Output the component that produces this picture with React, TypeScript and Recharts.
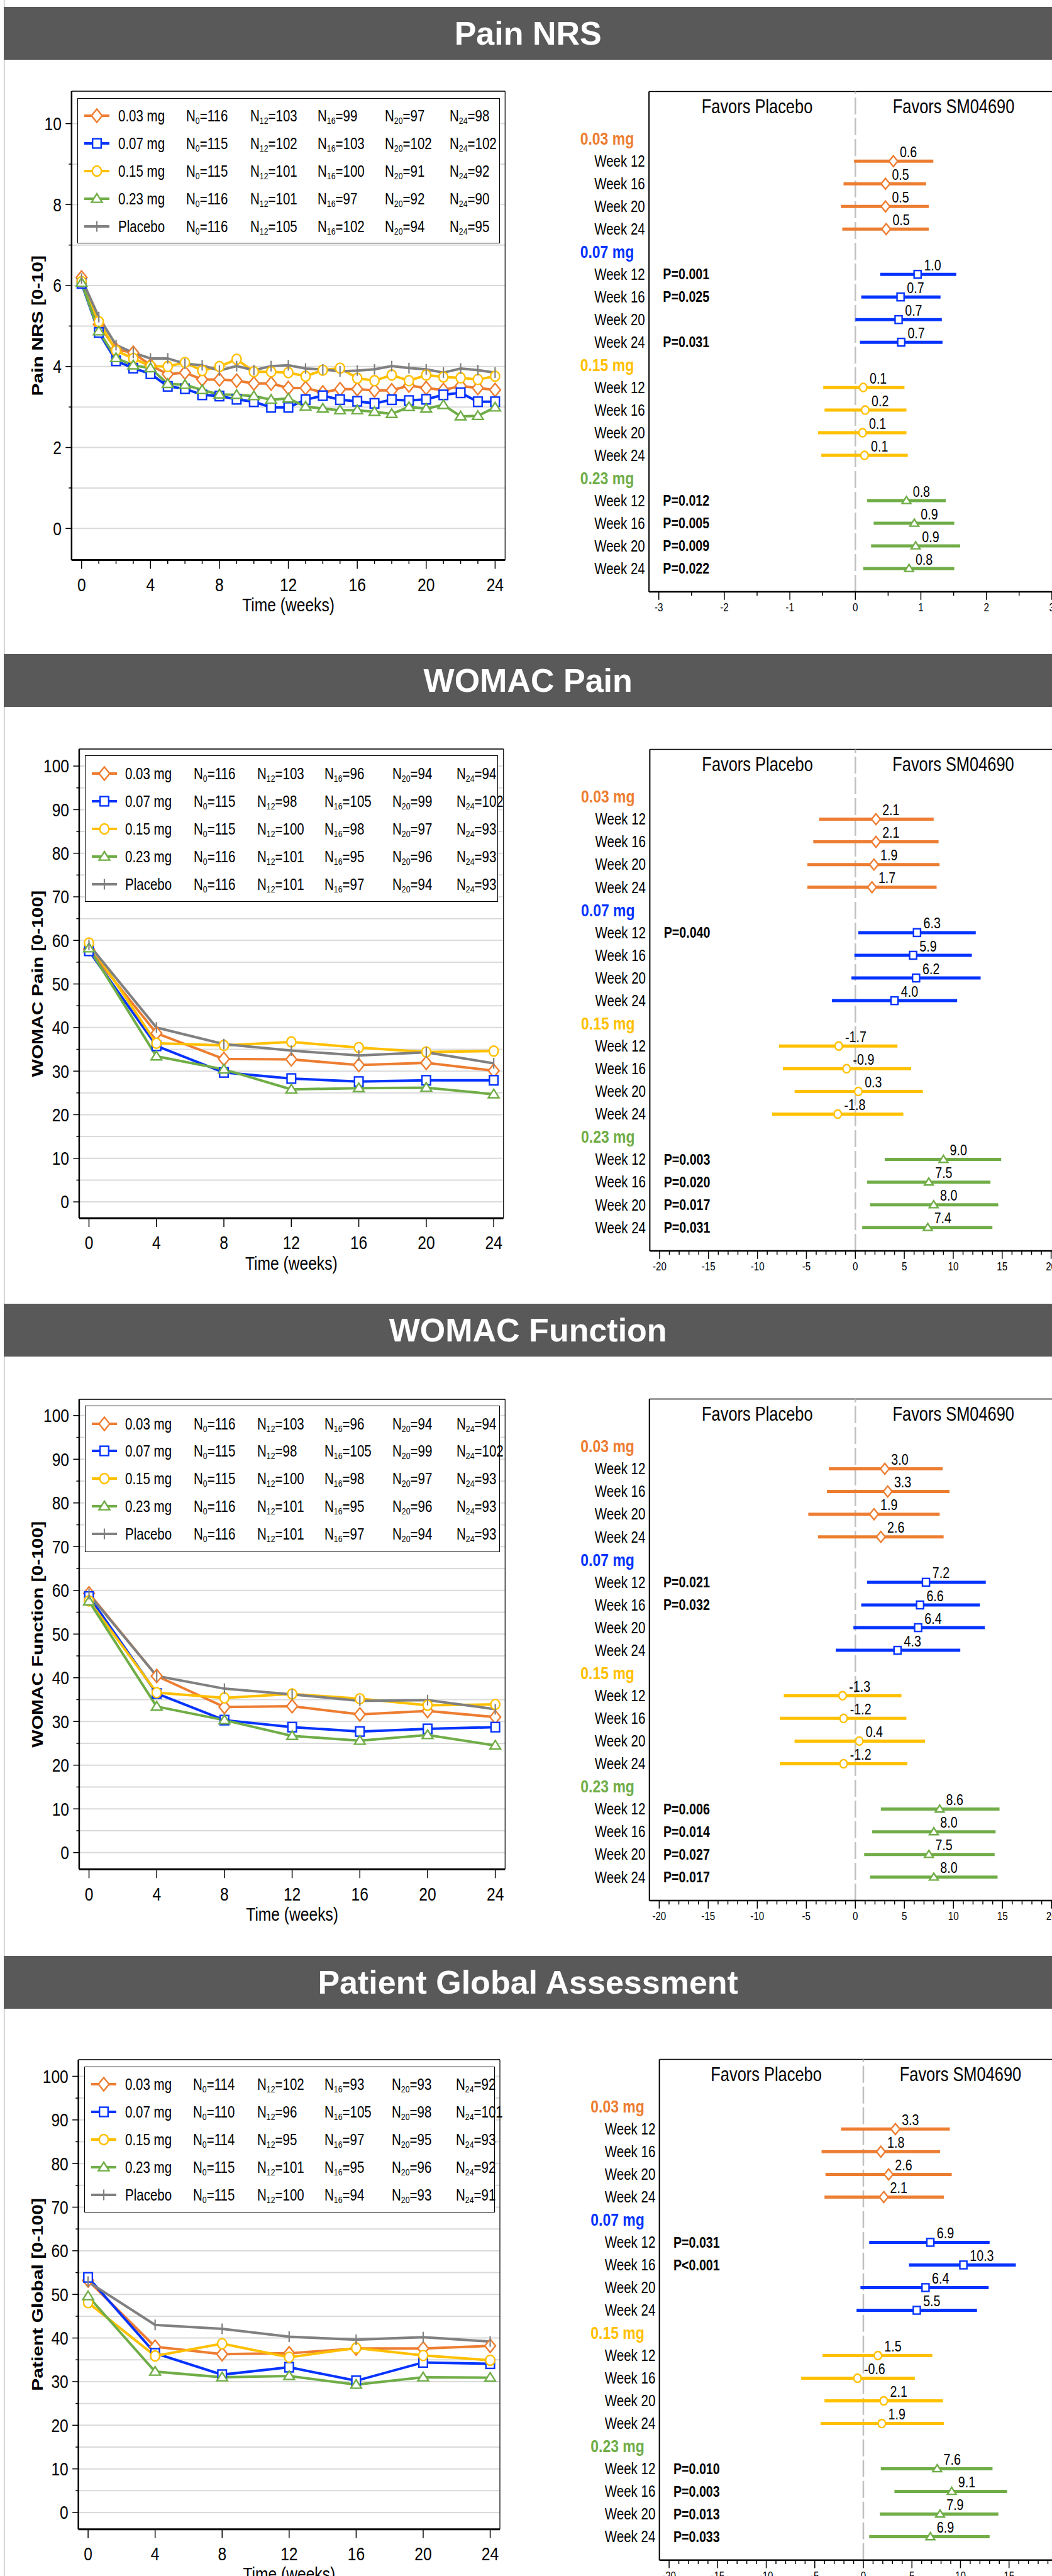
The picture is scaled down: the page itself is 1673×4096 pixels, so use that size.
import React from "react";
import {
  LineChart,
  Line,
  XAxis,
  YAxis,
  CartesianGrid,
  ReferenceLine,
  ScatterChart,
  Scatter,
} from "recharts";

const S = 0.636; // reference px -> page px
const k = (v: number) => v * S;
const SQ = 0.82; // source figure is squeezed horizontally
const FONT = "'Liberation Sans', Arial, Helvetica, sans-serif";

const ORANGE = "#ED7D31";
const BLUE = "#0433FF";
const YELLOW = "#FFC000";
const GREEN = "#70AD47";
const GRAY = "#808080";

// ---------- time course data ----------
const nrsWeeks = [0, 1, 2, 3, 4, 5, 6, 7, 8, 9, 10, 11, 12, 13, 14, 15, 16, 17, 18, 19, 20, 21, 22, 23, 24];
const visitWeeks = [0, 4, 8, 12, 16, 20, 24];

const nrs003 = [6.2, 5.04, 4.42, 4.34, 4.03, 3.81, 3.85, 3.68, 3.68, 3.65, 3.58, 3.58, 3.47, 3.47, 3.36, 3.44, 3.44, 3.41, 3.41, 3.53, 3.47, 3.42, 3.52, 3.47, 3.42];
const nrs007 = [6.05, 4.84, 4.14, 3.96, 3.82, 3.51, 3.45, 3.3, 3.27, 3.19, 3.13, 2.99, 2.99, 3.18, 3.28, 3.18, 3.14, 3.09, 3.18, 3.16, 3.19, 3.3, 3.35, 3.13, 3.13];
const nrs015 = [6.1, 5.11, 4.39, 4.2, 4.01, 4.0, 4.1, 3.9, 4.0, 4.18, 3.87, 3.87, 3.85, 3.76, 3.91, 3.96, 3.71, 3.65, 3.79, 3.65, 3.79, 3.74, 3.72, 3.68, 3.76];
const nrs023 = [6.07, 4.87, 4.21, 4.03, 3.96, 3.57, 3.55, 3.42, 3.31, 3.3, 3.27, 3.18, 3.21, 3.01, 2.96, 2.92, 2.92, 2.88, 2.83, 3.0, 2.96, 3.05, 2.77, 2.78, 2.99];
const nrsPbo = [6.17, 5.22, 4.53, 4.34, 4.2, 4.2, 4.07, 4.03, 3.9, 4.01, 3.91, 4.01, 4.03, 3.95, 3.93, 3.88, 3.9, 3.93, 4.01, 3.96, 3.93, 3.85, 3.95, 3.91, 3.85];

const wpain003 = [58.0, 38.7, 32.8, 32.7, 31.4, 31.9, 30.1];
const wpain007 = [57.6, 35.8, 29.7, 28.3, 27.6, 27.9, 27.9];
const wpain015 = [59.4, 36.4, 35.9, 36.7, 35.4, 34.4, 34.6];
const wpain023 = [58.2, 33.4, 30.4, 25.8, 26.1, 26.2, 24.7];
const wpainPbo = [59.0, 40.0, 36.2, 34.7, 33.6, 34.3, 31.8];

const wfunc003 = [59.3, 40.4, 33.3, 33.5, 31.6, 32.4, 31.0];
const wfunc007 = [58.6, 36.4, 30.3, 28.7, 27.7, 28.3, 28.7];
const wfunc015 = [57.6, 36.6, 35.4, 36.3, 35.2, 33.7, 33.9];
const wfunc023 = [57.5, 33.4, 30.3, 26.7, 25.6, 26.9, 24.5];
const wfuncPbo = [59.1, 40.4, 37.5, 36.2, 34.7, 34.9, 32.8];

const pga003 = [53.2, 38.0, 36.3, 36.5, 37.6, 37.6, 38.2];
const pga007 = [53.9, 36.5, 31.6, 33.3, 30.2, 34.4, 34.1];
const pga015 = [48.1, 35.9, 38.7, 35.6, 37.7, 36.0, 34.9];
const pga023 = [49.6, 32.3, 31.0, 31.3, 29.3, 31.0, 30.9];
const pgaPbo = [52.9, 43.0, 42.1, 40.3, 39.6, 40.2, 39.2];

// patients at each visit, legend rows (0.03, 0.07, 0.15, 0.23, placebo)
const nVisits = ["0", "12", "16", "20", "24"];
const nrsN = [[116, 103, 99, 97, 98], [115, 102, 103, 102, 102], [115, 101, 100, 91, 92], [116, 101, 97, 92, 90], [116, 105, 102, 94, 95]];
const womacN = [[116, 103, 96, 94, 94], [115, 98, 105, 99, 102], [115, 100, 98, 97, 93], [116, 101, 95, 96, 93], [116, 101, 97, 94, 93]];
const pgaN = [[114, 102, 93, 93, 92], [110, 96, 105, 98, 101], [114, 95, 97, 95, 93], [115, 101, 95, 96, 92], [115, 100, 94, 93, 91]];

const nrsYTicks = [0, 1, 2, 3, 4, 5, 6, 7, 8, 9, 10];
const pctYTicks = [0, 5, 10, 15, 20, 25, 30, 35, 40, 45, 50, 55, 60, 65, 70, 75, 80, 85, 90, 95, 100];

// ---------- forest plot data (difference vs placebo) ----------
const weekLabels = ["Week 12", "Week 16", "Week 20", "Week 24"];

const nrsMean = [0.58, 0.46, 0.46, 0.47, 0.95, 0.69, 0.66, 0.7, 0.12, 0.15, 0.11, 0.14, 0.78, 0.9, 0.92, 0.82];
const nrsLo = [-0.02, -0.18, -0.22, -0.2, 0.38, 0.09, 0.0, 0.07, -0.49, -0.47, -0.57, -0.52, 0.18, 0.28, 0.24, 0.12];
const nrsHi = [1.19, 1.08, 1.12, 1.12, 1.54, 1.3, 1.32, 1.33, 0.75, 0.78, 0.78, 0.8, 1.38, 1.51, 1.6, 1.51];
const nrsLabel = ["0.6", "0.5", "0.5", "0.5", "1.0", "0.7", "0.7", "0.7", "0.1", "0.2", "0.1", "0.1", "0.8", "0.9", "0.9", "0.8"];
const nrsP = ["", "", "", "", "P=0.001", "P=0.025", "", "P=0.031", "", "", "", "", "P=0.012", "P=0.005", "P=0.009", "P=0.022"];

const wpainMean = [2.1, 2.1, 1.9, 1.7, 6.3, 5.9, 6.2, 4.0, -1.7, -0.9, 0.3, -1.8, 9.0, 7.5, 8.0, 7.4];
const wpainLo = [-3.7, -4.3, -4.9, -4.9, 0.3, -0.1, -0.4, -2.4, -7.8, -7.4, -6.2, -8.5, 3.0, 1.2, 1.5, 0.7];
const wpainHi = [8.0, 8.5, 8.6, 8.3, 12.3, 11.9, 12.8, 10.4, 4.3, 5.7, 6.9, 4.9, 14.9, 13.8, 14.6, 14.0];
const wpainLabel = ["2.1", "2.1", "1.9", "1.7", "6.3", "5.9", "6.2", "4.0", "-1.7", "-0.9", "0.3", "-1.8", "9.0", "7.5", "8.0", "7.4"];
const wpainP = ["", "", "", "", "P=0.040", "", "", "", "", "", "", "", "P=0.003", "P=0.020", "P=0.017", "P=0.031"];

const wfuncMean = [3.0, 3.3, 1.9, 2.6, 7.2, 6.6, 6.4, 4.3, -1.3, -1.2, 0.4, -1.2, 8.6, 8.0, 7.5, 8.0];
const wfuncLo = [-2.7, -2.9, -4.8, -3.8, 1.2, 0.6, -0.2, -2.0, -7.3, -7.7, -6.2, -7.7, 2.6, 1.7, 0.9, 1.5];
const wfuncHi = [8.9, 9.6, 8.6, 9.0, 13.3, 12.7, 13.2, 10.7, 4.7, 5.2, 7.1, 5.3, 14.7, 14.3, 14.2, 14.5];
const wfuncLabel = ["3.0", "3.3", "1.9", "2.6", "7.2", "6.6", "6.4", "4.3", "-1.3", "-1.2", "0.4", "-1.2", "8.6", "8.0", "7.5", "8.0"];
const wfuncP = ["", "", "", "", "P=0.021", "P=0.032", "", "", "", "", "", "", "P=0.006", "P=0.014", "P=0.027", "P=0.017"];

const pgaMean = [3.3, 1.8, 2.6, 2.1, 6.9, 10.3, 6.4, 5.5, 1.5, -0.6, 2.1, 1.9, 7.6, 9.1, 7.9, 6.9];
const pgaLo = [-2.3, -4.3, -3.9, -4.0, 0.6, 4.7, -0.3, -0.7, -4.2, -6.4, -4.0, -4.4, 1.8, 3.2, 1.7, 0.6];
const pgaHi = [8.9, 7.9, 9.1, 8.3, 13.0, 15.7, 12.9, 11.7, 7.1, 5.3, 8.2, 8.3, 13.3, 14.8, 13.9, 13.0];
const pgaLabel = ["3.3", "1.8", "2.6", "2.1", "6.9", "10.3", "6.4", "5.5", "1.5", "-0.6", "2.1", "1.9", "7.6", "9.1", "7.9", "6.9"];
const pgaP = ["", "", "", "", "P=0.031", "P<0.001", "", "", "", "", "", "", "P=0.010", "P=0.003", "P=0.013", "P=0.033"];

const nrsForestTicks = [-3, -2.5, -2, -1.5, -1, -0.5, 0, 0.5, 1, 1.5, 2, 2.5, 3];
const wideForestTicks = Array.from({ length: 41 }, (_, i) => i - 20);
const rowTicks = Array.from({ length: 20 }, (_, i) => i);

const seriesDefs = [
  { key: "d003", name: "0.03 mg", color: ORANGE, shape: "diamond" },
  { key: "d007", name: "0.07 mg", color: BLUE, shape: "square" },
  { key: "d015", name: "0.15 mg", color: YELLOW, shape: "circle" },
  { key: "d023", name: "0.23 mg", color: GREEN, shape: "triangle" },
  { key: "pbo", name: "Placebo", color: GRAY, shape: "plus" },
];
const doseGroups = seriesDefs.slice(0, 4);

function buildRows(weeks: number[], cols: number[][]) {
  return weeks.map((w, i) => {
    const r: any = { week: w };
    seriesDefs.forEach((s, j) => (r[s.key] = cols[j][i]));
    return r;
  });
}

const panels = [
  {
    title: "Pain NRS",
    yTitle: "Pain NRS [0-10]",
    headerTop: 18,
    rows: buildRows(nrsWeeks, [nrs003, nrs007, nrs015, nrs023, nrsPbo]),
    ns: nrsN,
    trend: { l: 179, t: 228, r: 1263, b: 1400, yMin: -0.78, yMax: 10.8, yTicks: nrsYTicks, yEvery: 2, xTicks: nrsWeeks },
    legend: { l: 194, t: 245, w: 1056, h: 364 },
    forest: { l: 1623, t: 229, b: 1480, x0: 2139, xMax: 3.15, xTicks: nrsForestTicks, xEvery: 1, favorsX: 1.5 },
    est: { mean: nrsMean, lo: nrsLo, hi: nrsHi, label: nrsLabel, p: nrsP },
  },
  {
    title: "WOMAC Pain",
    yTitle: "WOMAC Pain [0-100]",
    headerTop: 1635,
    rows: buildRows(visitWeeks, [wpain003, wpain007, wpain015, wpain023, wpainPbo]),
    ns: womacN,
    trend: { l: 198, t: 1872, r: 1259, b: 3045, yMin: -3.76, yMax: 103.9, yTicks: pctYTicks, yEvery: 10, xTicks: visitWeeks },
    legend: { l: 212, t: 1889, w: 1033, h: 365 },
    forest: { l: 1625, t: 1873, b: 3127, x0: 2139, xMax: 21, xTicks: wideForestTicks, xEvery: 5, favorsX: 10 },
    est: { mean: wpainMean, lo: wpainLo, hi: wpainHi, label: wpainLabel, p: wpainP },
  },
  {
    title: "WOMAC Function",
    yTitle: "WOMAC Function [0-100]",
    headerTop: 3260,
    rows: buildRows(visitWeeks, [wfunc003, wfunc007, wfunc015, wfunc023, wfuncPbo]),
    ns: womacN,
    trend: { l: 198, t: 3498, r: 1263, b: 4673, yMin: -3.84, yMax: 103.7, yTicks: pctYTicks, yEvery: 10, xTicks: visitWeeks },
    legend: { l: 212, t: 3514, w: 1038, h: 366 },
    forest: { l: 1624, t: 3498, b: 4752, x0: 2139, xMax: 21, xTicks: wideForestTicks, xEvery: 5, favorsX: 10 },
    est: { mean: wfuncMean, lo: wfuncLo, hi: wfuncHi, label: wfuncLabel, p: wfuncP },
  },
  {
    title: "Patient Global Assessment",
    yTitle: "Patient Global [0-100]",
    headerTop: 4890,
    rows: buildRows(visitWeeks, [pga003, pga007, pga015, pga023, pgaPbo]),
    ns: pgaN,
    trend: { l: 196, t: 5149, r: 1250, b: 6323, yMin: -3.85, yMax: 103.8, yTicks: pctYTicks, yEvery: 10, xTicks: visitWeeks },
    legend: { l: 211, t: 5166, w: 1026, h: 365 },
    forest: { l: 1649, t: 5149, b: 6401, x0: 2159, xMax: 21, xTicks: wideForestTicks, xEvery: 5, favorsX: 10 },
    est: { mean: pgaMean, lo: pgaLo, hi: pgaHi, label: pgaLabel, p: pgaP },
  },
];

function SqText({ x, y, size, anchor = "start", weight = "normal", fill = "#000", children }: any) {
  return (
    <text
      transform={`translate(${x},${y}) scale(${SQ},1)`}
      textAnchor={anchor}
      dominantBaseline="central"
      fontSize={size}
      fontWeight={weight}
      fill={fill}
      fontFamily={FONT}
    >
      {children}
    </text>
  );
}

function Marker({ cx, cy, shape, color, sc = 1 }: any) {
  if (cx == null || cy == null) return <g />;
  const sw = 2.4;
  if (shape === "diamond") {
    const w = 8.5 * sc, h = 10.5 * sc;
    return <polygon points={`${cx},${cy - h} ${cx + w},${cy} ${cx},${cy + h} ${cx - w},${cy}`} fill="#fff" stroke={color} strokeWidth={sw} />;
  }
  if (shape === "square") {
    const w = 6.8 * sc, h = 7.4 * sc;
    return <rect x={cx - w} y={cy - h} width={2 * w} height={2 * h} fill="#fff" stroke={color} strokeWidth={sw} />;
  }
  if (shape === "circle") {
    return <ellipse cx={cx} cy={cy} rx={7.2 * sc} ry={8 * sc} fill="#fff" stroke={color} strokeWidth={sw} />;
  }
  if (shape === "triangle") {
    const w = 8.5 * sc, h = 8 * sc;
    return <polygon points={`${cx},${cy - h} ${cx + w},${cy + h * 0.7} ${cx - w},${cy + h * 0.7}`} fill="#fff" stroke={color} strokeWidth={sw} />;
  }
  return <line x1={cx} x2={cx} y1={cy - 8.5 * sc} y2={cy + 8.5 * sc} stroke={color} strokeWidth={2.2} />;
}

function TrendChart({ cfg, rows, yTitle }: any) {
  const { l, t, r, b, yMin, yMax, yTicks, yEvery, xTicks } = cfg;
  const top = 30;
  const bottomH = 140;
  const plotH = k(b - t);
  const xTick = (p: any) => {
    const v = p.payload.value;
    const major = v % 4 === 0;
    return (
      <g>
        <line x1={p.x} x2={p.x} y1={p.y} y2={p.y + (major ? k(22) : k(10))} stroke="#000" strokeWidth={1.5} />
        {major && <SqText x={p.x} y={p.y + k(61)} size={30} anchor="middle">{v}</SqText>}
      </g>
    );
  };
  const yTick = (p: any) => {
    const v = p.payload.value;
    const major = v % yEvery === 0;
    return (
      <g>
        <line x1={p.x - (major ? k(15) : k(7))} x2={p.x} y1={p.y} y2={p.y} stroke="#000" strokeWidth={1.5} />
        {major && <SqText x={p.x - k(25)} y={p.y} size={30} anchor="end">{v}</SqText>}
      </g>
    );
  };
  return (
    <div style={{ position: "absolute", left: 0, top: k(t - top) }}>
      <LineChart
        width={k(r + 12)}
        height={k(b - t + top + bottomH)}
        data={rows}
        margin={{ top: k(top), right: k(12), bottom: 0, left: 0 }}
      >
        <CartesianGrid vertical={false} stroke="#dadada" strokeWidth={2} />
        <XAxis
          dataKey="week"
          type="number"
          domain={[-0.58, 24.58]}
          ticks={xTicks}
          interval={0}
          tickSize={0}
          tickMargin={0}
          height={k(bottomH)}
          allowDataOverflow
          axisLine={{ stroke: "#000", strokeWidth: 3 }}
          tickLine={false}
          tick={xTick}
          label={() => (
            <SqText x={k((l + r) / 2)} y={k(top) + plotH + k(112)} size={30} anchor="middle">
              Time (weeks)
            </SqText>
          )}
        />
        <YAxis
          type="number"
          domain={[yMin, yMax]}
          ticks={yTicks}
          interval={0}
          tickSize={0}
          tickMargin={0}
          width={k(l)}
          allowDataOverflow
          axisLine={{ stroke: "#000", strokeWidth: 2.5 }}
          tickLine={false}
          tick={yTick}
          label={() => (
            <text
              transform={`translate(${k(93)},${k(top) + plotH / 2}) scale(${SQ},1) rotate(-90)`}
              textAnchor="middle"
              dominantBaseline="central"
              fontSize={30}
              fontWeight="bold"
              fontFamily={FONT}
              fill="#000"
            >
              {yTitle}
            </text>
          )}
        />
        <ReferenceLine y={yMax} stroke="#000" strokeWidth={1.5} ifOverflow="visible" />
        <ReferenceLine x={24.58} stroke="#000" strokeWidth={1.2} ifOverflow="visible" />
        {seriesDefs.map((s) => (
          <Line
            key={s.key}
            dataKey={s.key}
            type="linear"
            stroke={s.color}
            strokeWidth={4}
            isAnimationActive={false}
            activeDot={false}
            dot={(p: any) => <Marker key={`${s.key}-${p.index}`} cx={p.cx} cy={p.cy} shape={s.shape} color={s.color} />}
          />
        ))}
      </LineChart>
    </div>
  );
}

function LegendBox({ box, ns }: any) {
  const cols = [270, 430, 598, 767, 928];
  const txt = (left: number, cy: number): React.CSSProperties => ({
    position: "absolute",
    left,
    top: cy,
    transform: `translateY(-50%) scaleX(${SQ})`,
    transformOrigin: "0 50%",
    fontSize: 25,
    lineHeight: 1,
    whiteSpace: "nowrap",
    fontFamily: FONT,
    color: "#000",
  });
  return (
    <div
      style={{
        position: "absolute",
        left: k(box.l),
        top: k(box.t),
        width: k(box.w),
        height: k(box.h),
        border: "1.6px solid #000",
        boxSizing: "border-box",
        background: "#fff",
      }}
    >
      {seriesDefs.map((s, i) => {
        const cy = k(46 + i * 69) - 1.6;
        return (
          <React.Fragment key={s.key}>
            <svg style={{ position: "absolute", left: k(47) - 22, top: cy - 13 }} width={44} height={26}>
              <line x1={2} x2={42} y1={13} y2={13} stroke={s.color} strokeWidth={4} />
              <Marker cx={22} cy={13} shape={s.shape} color={s.color} />
            </svg>
            <span style={txt(k(100), cy)}>{s.name}</span>
            {cols.map((c, j) => (
              <span key={c} style={txt(k(c), cy)}>
                N<sub style={{ fontSize: "0.6em", verticalAlign: "-0.3em", lineHeight: 0 }}>{nVisits[j]}</sub>={ns[i][j]}
              </span>
            ))}
          </React.Fragment>
        );
      })}
    </div>
  );
}

function ForestChart({ cfg, est }: any) {
  const { l, t, b, x0, xMax, xTicks, xEvery, favorsX } = cfg;
  const origin = 1420;
  const top = 40;
  const bottomH = 80;
  const rightEdge = 2 * x0 - l;
  const yMin = -2.08;
  const yMax = 20.03;

  const rowTick = (p: any) => {
    const r = p.payload.value;
    const g = Math.floor(r / 5);
    const w = r % 5;
    if (w === 0) {
      return (
        <SqText x={p.x - k(172)} y={p.y} size={28} weight="bold" fill={doseGroups[g].color}>
          {doseGroups[g].name}
        </SqText>
      );
    }
    const idx = g * 4 + w - 1;
    return (
      <g>
        <SqText x={p.x - k(10)} y={p.y} size={25} anchor="end">{weekLabels[w - 1]}</SqText>
        {est.p[idx] ? (
          <SqText x={p.x + k(35)} y={p.y} size={24} weight="bold">{est.p[idx]}</SqText>
        ) : null}
      </g>
    );
  };
  const xTick = (p: any) => {
    const v = p.payload.value;
    const major = Math.abs(v / xEvery - Math.round(v / xEvery)) < 1e-6;
    return (
      <g>
        <line x1={p.x} x2={p.x} y1={p.y} y2={p.y + (major ? k(20) : k(10))} stroke="#000" strokeWidth={1.5} />
        {major && <SqText x={p.x} y={p.y + k(39)} size={18.5} anchor="middle">{v}</SqText>}
      </g>
    );
  };
  const favors = [
    { x: -favorsX, y: -1.42, text: "Favors Placebo" },
    { x: favorsX, y: -1.42, text: "Favors SM04690" },
  ];
  return (
    <div style={{ position: "absolute", left: k(origin), top: k(t - top) }}>
      <ScatterChart
        width={k(rightEdge - origin + 10)}
        height={k(b - t + top + bottomH)}
        margin={{ top: k(top), right: k(10), bottom: 0, left: 0 }}
      >
        <XAxis
          type="number"
          dataKey="x"
          domain={[-xMax, xMax]}
          ticks={xTicks}
          interval={0}
          tickSize={0}
          tickMargin={0}
          height={k(bottomH)}
          allowDataOverflow
          axisLine={{ stroke: "#000", strokeWidth: 2.5 }}
          tickLine={false}
          tick={xTick}
        />
        <YAxis
          type="number"
          dataKey="y"
          domain={[yMin, yMax]}
          reversed
          ticks={rowTicks}
          interval={0}
          tickSize={0}
          tickMargin={0}
          width={k(l - origin)}
          allowDataOverflow
          axisLine={{ stroke: "#000", strokeWidth: 2 }}
          tickLine={false}
          tick={rowTick}
        />
        <ReferenceLine y={yMin} stroke="#000" strokeWidth={1.5} ifOverflow="visible" />
        <ReferenceLine x={0} stroke="#c0c0c0" strokeWidth={2.5} strokeDasharray="27 6" ifOverflow="visible" />
        {est.mean.map((m: number, i: number) => {
          const g = Math.floor(i / 4);
          const row = g * 5 + 1 + (i % 4);
          return (
            <ReferenceLine
              key={`ci${i}`}
              segment={[{ x: est.lo[i], y: row }, { x: est.hi[i], y: row }]}
              stroke={doseGroups[g].color}
              strokeWidth={5}
              ifOverflow="visible"
            />
          );
        })}
        {doseGroups.map((s, g) => {
          const pts = [0, 1, 2, 3].map((w) => ({
            x: est.mean[g * 4 + w],
            y: g * 5 + 1 + w,
            label: est.label[g * 4 + w],
          }));
          return (
            <Scatter
              key={s.key}
              data={pts}
              isAnimationActive={false}
              shape={(p: any) => (
                <g>
                  <Marker cx={p.cx} cy={p.cy} shape={s.shape} color={s.color} sc={0.82} />
                  <SqText x={p.cx + k(16)} y={p.cy - k(23)} size={24}>{p.payload.label}</SqText>
                </g>
              )}
            />
          );
        })}
        <Scatter
          data={favors}
          isAnimationActive={false}
          shape={(p: any) => (
            <SqText x={p.cx} y={p.cy} size={31} anchor="middle">{p.payload.text}</SqText>
          )}
        />
      </ScatterChart>
    </div>
  );
}

function Panel({ p }: any) {
  return (
    <>
      <div
        style={{
          position: "absolute",
          left: k(10),
          top: k(p.headerTop),
          width: 1673 - k(10),
          height: k(132),
          background: "#595959",
          color: "#fff",
          display: "flex",
          alignItems: "center",
          justifyContent: "center",
          fontFamily: FONT,
          fontWeight: "bold",
          fontSize: 52,
        }}
      >
        {p.title}
      </div>
      <TrendChart cfg={p.trend} rows={p.rows} yTitle={p.yTitle} />
      <LegendBox box={p.legend} ns={p.ns} />
      <ForestChart cfg={p.forest} est={p.est} />
    </>
  );
}

export default function App() {
  return (
    <div
      style={{
        position: "absolute",
        left: 0,
        top: 0,
        width: 1673,
        height: 4096,
        overflow: "hidden",
        background: "#fff",
        fontFamily: FONT,
      }}
    >
      <div style={{ position: "absolute", left: k(10), top: 0, width: 1, height: 4096, background: "#7f7f7f" }} />
      {panels.map((p) => (
        <Panel key={p.title} p={p} />
      ))}
    </div>
  );
}
